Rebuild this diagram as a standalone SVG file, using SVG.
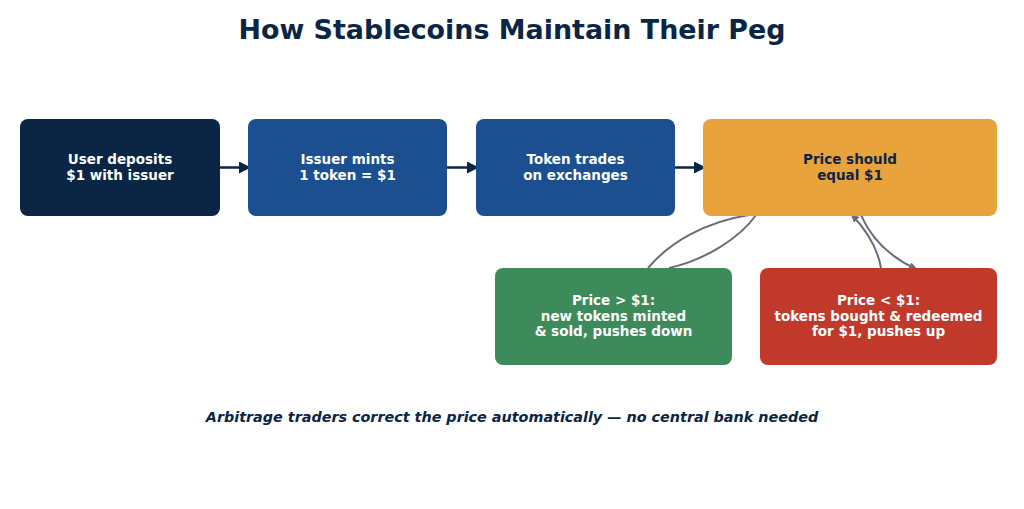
<svg xmlns="http://www.w3.org/2000/svg" width="1024" height="509" viewBox="0 0 1024 509">
<style>
.t{font-family:"DejaVu Sans",sans-serif;font-weight:bold;font-size:13.5px;text-anchor:middle;fill:#ffffff}
.dark{fill:#0b2545}
.c{fill:none;stroke:#0b2545;stroke-width:2.5}
.g{fill:none;stroke:#6b6e7a;stroke-width:2}
</style>
<defs>
<marker id="ah" markerWidth="12" markerHeight="12" refX="10" refY="6" orient="auto" markerUnits="userSpaceOnUse"><path d="M0,0 L12,6 L0,12 z" fill="#0b2545"/></marker>
<marker id="gh" markerWidth="9" markerHeight="8" refX="7" refY="4" orient="auto" markerUnits="userSpaceOnUse"><path d="M0,0 L9,4 L0,8 z" fill="#6b6e7a"/></marker>
</defs>
<rect width="1024" height="509" fill="#ffffff"/>
<text x="512" y="38.5" font-family="DejaVu Sans,sans-serif" font-weight="bold" font-size="26.9" text-anchor="middle" fill="#0b2545">How Stablecoins Maintain Their Peg</text>
<g id="connectors">
<line class="c" x1="220" y1="167.5" x2="249" y2="167.5" marker-end="url(#ah)"/>
<line class="c" x1="447" y1="167.5" x2="477" y2="167.5" marker-end="url(#ah)"/>
<line class="c" x1="675" y1="167.5" x2="704" y2="167.5" marker-end="url(#ah)"/>
<path class="g" d="M648,268 C670,242 705,222 749,215"/>
<path class="g" d="M756,215 C740,238 705,260 669,268"/>
<path class="g" d="M881,268 C878,250 868,232 852,215" marker-end="url(#gh)"/>
<path class="g" d="M861,215 C872,240 892,258 916,269" marker-end="url(#gh)"/>
</g>
<g id="n1"><rect x="20" y="119" width="200" height="97" rx="8" fill="#0b2545"/>
<text class="t" x="120" y="164">User deposits</text><text class="t" x="120" y="180">$1 with issuer</text></g>
<g id="n2"><rect x="248" y="119" width="199" height="97" rx="8" fill="#1b4f8f"/>
<text class="t" x="347.5" y="164">Issuer mints</text><text class="t" x="347.5" y="180">1 token = $1</text></g>
<g id="n3"><rect x="476" y="119" width="199" height="97" rx="8" fill="#1b4f8f"/>
<text class="t" x="575.5" y="164">Token trades</text><text class="t" x="575.5" y="180">on exchanges</text></g>
<g id="n4"><rect x="703" y="119" width="294" height="97" rx="8" fill="#e8a33d"/>
<text class="t dark" x="850" y="164">Price should</text><text class="t dark" x="850" y="180">equal $1</text></g>
<g id="n5"><rect x="495" y="268" width="237" height="97" rx="8" fill="#3d8b5a"/>
<text class="t" x="613.5" y="305">Price &gt; $1:</text><text class="t" x="613.5" y="320.5">new tokens minted</text><text class="t" x="613.5" y="336">&amp; sold, pushes down</text></g>
<g id="n6"><rect x="760" y="268" width="237" height="97" rx="8" fill="#c0392b"/>
<text class="t" x="878.5" y="305">Price &lt; $1:</text><text class="t" x="878.5" y="320.5">tokens bought &amp; redeemed</text><text class="t" x="878.5" y="336">for $1, pushes up</text></g>
<text x="512" y="422" font-family="DejaVu Sans,sans-serif" font-weight="bold" font-style="italic" font-size="14.35" text-anchor="middle" fill="#0b2545">Arbitrage traders correct the price automatically — no central bank needed</text>
</svg>
